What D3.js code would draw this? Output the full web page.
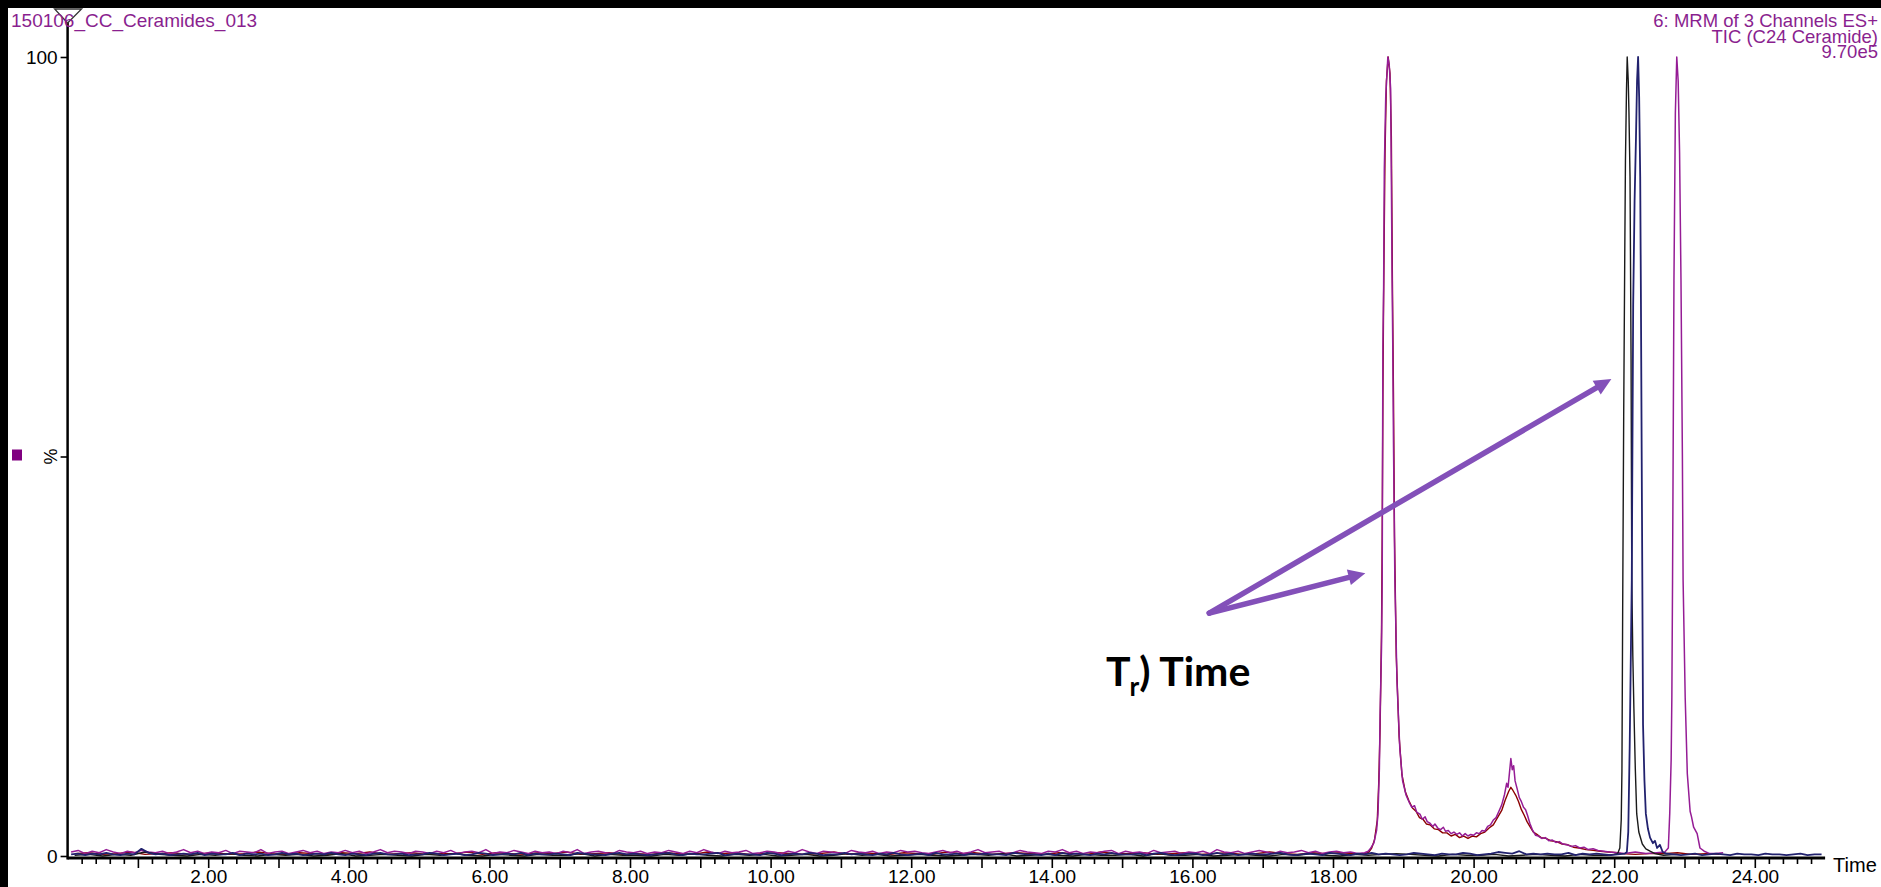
<!DOCTYPE html>
<html>
<head>
<meta charset="utf-8">
<script src="https://d3js.org/d3.v7.min.js"></script>
<style>
  body { margin: 0; background: #fff; }
  svg { display: block; }
</style>
</head>
<body>
<svg id="vis"></svg>
<script>
  // ---- data (retention time in min, intensity in %) ----
  var sampleTitle = "150106_CC_Ceramides_013";
  var infoLines = ["6: MRM of 3 Channels ES+", "TIC (C24 Ceramide)", "9.70e5"];
  var xLabelTicks = [2, 4, 6, 8, 10, 12, 14, 16, 18, 20, 22, 24];
  var yLabelTicks = [0, 100];

  // baseline noise, one value per scan step
  var purpleBase = [
    0.5,0.7,0.3,0.6,0.4,0.8,0.5,0.3,0.6,0.4, 0.7,0.5,0.4,0.6,0.3,0.5,0.8,0.4,0.6,0.3,
    0.5,0.4,0.7,0.3,0.6,0.5,0.4,0.8,0.3,0.5, 0.6,0.3,0.5,0.7,0.4,0.6,0.3,0.5,0.4,0.7,
    0.4,0.6,0.3,0.5,0.8,0.4,0.6,0.5,0.3,0.6, 0.5,0.3,0.6,0.4,0.7,0.3,0.5,0.6,0.4,0.8,
    0.3,0.5,0.4,0.7,0.5,0.3,0.6,0.4,0.5,0.3, 0.6,0.4,0.8,0.3,0.5,0.6,0.4,0.3,0.7,0.5,
    0.4,0.6,0.3,0.5,0.4,0.7,0.5,0.3,0.6,0.4, 0.8,0.5,0.3,0.6,0.4,0.5,0.7,0.3,0.4,0.6,
    0.5,0.3,0.6,0.4,0.8,0.5,0.3,0.6,0.5,0.4, 0.3,0.7,0.5,0.4,0.6,0.3,0.5,0.4,0.7,0.5,
    0.6,0.4,0.3,0.5,0.7,0.4,0.6,0.3,0.5,0.8, 0.4,0.5,0.6,0.3,0.4,0.7,0.5,0.4,0.3,0.6,
    0.5,0.8,0.4,0.6,0.3,0.5,0.4,0.6,0.7,0.3, 0.6,0.4,0.5,0.3,0.7,0.4,0.5,0.6,0.3,0.5,
    0.4,0.6,0.3,0.8,0.5,0.4,0.6,0.3,0.5,0.7, 0.5,0.3,0.6,0.4,0.5,0.7,0.4,0.6,0.3,0.5,
    0.6,0.4,0.5,0.3,0.6,0.4,0.7,0.5,0.4,0.6, 0.4,0.5,0.3,0.6,0.4,0.5,0.3,0.4,0.6,0.5,
    0.3,0.5,0.4,0.6,0.3,0.4,0.5,0.3,0.6,0.4, 0.5,0.3,0.4,0.5,0.3,0.6,0.4,0.3,0.5,0.4,
    0.3,0.4,0.5,0.3,0.4,0.3,0.5,0.4,0.3,0.4, 0.3,0.4,0.3,0.5,0.3,0.4,0.4,0.3,0.5,0.3,
    0.3,0.4,0.3,0.4,0.3,0.3,0.4,0.3,0.4,0.3
  ];
  var navyBase = [
    0.2,0.3,0.1,0.3,0.2,0.4,0.2,0.1,0.3,0.2, 0.9,0.4,0.2,0.3,0.1,0.2,0.3,0.2,0.4,0.1,
    0.3,0.2,0.2,0.4,0.1,0.3,0.2,0.3,0.1,0.2, 0.4,0.2,0.3,0.1,0.2,0.3,0.2,0.4,0.2,0.1,
    0.3,0.2,0.1,0.3,0.4,0.2,0.2,0.3,0.1,0.2, 0.2,0.4,0.3,0.1,0.2,0.3,0.1,0.2,0.4,0.3,
    0.1,0.2,0.3,0.2,0.4,0.1,0.3,0.2,0.2,0.3, 0.2,0.1,0.4,0.3,0.2,0.2,0.1,0.3,0.4,0.2,
    0.3,0.2,0.1,0.2,0.3,0.4,0.2,0.1,0.3,0.2, 0.2,0.3,0.4,0.1,0.2,0.3,0.2,0.2,0.1,0.4,
    0.3,0.1,0.2,0.3,0.2,0.4,0.3,0.1,0.2,0.2, 0.4,0.2,0.3,0.2,0.1,0.3,0.2,0.4,0.2,0.1,
    0.2,0.3,0.1,0.4,0.2,0.2,0.3,0.1,0.3,0.2, 0.3,0.2,0.2,0.1,0.4,0.3,0.2,0.2,0.1,0.3,
    0.1,0.4,0.2,0.3,0.2,0.1,0.3,0.2,0.4,0.2, 0.2,0.2,0.3,0.1,0.3,0.4,0.2,0.1,0.2,0.3,
    0.3,0.1,0.2,0.4,0.2,0.3,0.1,0.2,0.3,0.2, 0.2,0.3,0.4,0.2,0.1,0.2,0.3,0.2,0.1,0.4,
    0.3,0.2,0.1,0.3,0.2,0.4,0.2,0.3,0.2,0.1, 0.2,0.4,0.3,0.2,0.1,0.3,0.2,0.2,0.4,0.3,
    0.1,0.2,0.3,0.5,0.4,0.3,0.6,0.2,0.3,0.2, 0.3,0.2,0.2,0.4,0.1,0.3,0.2,0.3,0.2,0.1,
    0.2,0.3,0.3,0.2,0.4,0.3,0.2,0.3,0.2,0.1, 0.2,0.3,0.1,0.2,0.3,0.2,0.1,0.3,0.2,0.2,
    0.1,0.3,0.2,0.2,0.1,0.2,0.3,0.1,0.2,0.2
  ];
  var blackBase = [
    0.1,0.2,0.0,0.2,0.1,0.5,0.2,0.1,0.0,0.2, 0.1,0.3,0.1,0.0,0.2,0.1,0.2,0.0,0.1,0.3,
    0.0,0.1,0.2,0.1,0.0,0.2,0.1,0.3,0.1,0.0, 0.2,0.1,0.0,0.2,0.1,0.1,0.3,0.0,0.2,0.1,
    0.1,0.0,0.2,0.1,0.3,0.1,0.0,0.2,0.1,0.2, 0.0,0.1,0.2,0.0,0.1,0.3,0.1,0.2,0.0,0.1,
    0.2,0.1,0.0,0.1,0.2,0.1,0.3,0.0,0.1,0.2, 0.1,0.0,0.2,0.1,0.1,0.2,0.0,0.3,0.1,0.1,
    0.2,0.0,0.1,0.2,0.1,0.0,0.2,0.1,0.3,0.1, 0.0,0.2,0.1,0.2,0.3,0.2,0.1,0.0,0.2,0.1,
    0.1,0.2,0.0,0.1,0.2,0.1,0.0,0.2,0.1,0.1, 0.2,0.0,0.1,0.1,0.2
  ];
  var redBase = [
    0.3,0.4,0.2,0.3,0.5,0.2,0.3,0.4,0.2,0.3, 0.4,0.2,0.3,0.5,0.3,0.2,0.4,0.3,0.2,0.4,
    0.3,0.5,0.2,0.3,0.4,0.2,0.3,0.3,0.5,0.2, 0.4,0.3,0.2,0.4,0.3,0.5,0.2,0.3,0.4,0.2,
    0.3,0.2,0.4,0.3,0.2,0.5,0.3,0.4,0.2,0.3, 0.4,0.3,0.2,0.3,0.5,0.2,0.4,0.3,0.2,0.4,
    0.3,0.2,0.5,0.3,0.4,0.2,0.3,0.4,0.3,0.2, 0.4,0.3,0.2,0.5,0.3,0.3,0.4,0.2,0.3,0.4,
    0.2,0.3,0.4,0.2,0.3,0.5,0.3,0.2,0.4,0.3, 0.4,0.3,0.2,0.3,0.4,0.3,0.2,0.4,0.3,0.2,
    0.3,0.4,0.3,0.2,0.3,0.4,0.3,0.3,0.2,0.4, 0.3,0.2,0.3,0.3,0.4,0.2,0.3,0.2,0.3,0.2,
    0.3,0.2,0.3,0.2,0.2
  ];

  // peak regions [time, %]
  var purplePeak = [
    [18.45,0.4],[18.50,0.6],[18.53,0.9],[18.58,1.6],[18.62,3.2],[18.64,5.3],[18.66,11],[18.67,17.8],
    [18.69,26],[18.70,34.5],[18.705,50],[18.71,64],[18.72,71],[18.73,86],[18.75,95],[18.78,100],
    [18.80,99],[18.82,96],[18.83,85],[18.84,73],[18.85,64],[18.86,52],[18.88,34.5],[18.91,21.9],
    [18.95,13.5],[18.99,9.4],[19.04,7.6],[19.09,6.6],[19.12,6.1],[19.16,6.3],[19.19,5.5],[19.24,5.2],
    [19.27,4.6],[19.31,4.9],[19.34,4.3],[19.38,4.1],[19.42,3.7],[19.45,4.0],[19.49,3.5],[19.53,3.3],
    [19.57,3.6],[19.60,3.1],[19.64,3.2],[19.68,2.8],[19.72,3.0],[19.76,2.7],[19.80,2.9],[19.84,2.5],
    [19.88,2.8],[19.92,2.5],[19.96,2.7],[20.00,2.6],[20.04,2.9],[20.08,2.8],[20.12,3.2],[20.16,3.1],
    [20.20,3.7],[20.24,3.9],[20.28,4.5],[20.32,4.8],[20.36,5.6],[20.40,6.4],[20.44,7.7],[20.47,9.1],
    [20.49,8.6],[20.51,10.4],[20.53,12.2],[20.55,10.8],[20.57,11.3],[20.59,9.4],[20.62,8.4],[20.65,7.3],
    [20.68,6.8],[20.71,6.1],[20.74,5.8],[20.77,5.0],[20.80,4.1],[20.84,3.2],[20.88,2.6],[20.92,2.5],
    [20.97,2.2],[21.02,2.3],[21.07,1.9],[21.12,2.0],[21.17,1.7],[21.22,1.8],[21.27,1.5],[21.33,1.4],
    [21.39,1.2],[21.45,1.3],[21.51,1.0],[21.57,1.1],[21.63,0.8],[21.70,0.9],[21.77,0.7],[21.85,0.6],
    [21.93,0.5],[22.04,0.4],[22.15,0.3],[22.30,0.5],[22.45,0.3],[22.60,0.4],[22.72,0.5],[22.77,1.0],
    [22.79,5.3],[22.81,12],[22.82,19.8],[22.83,34.5],[22.85,72],[22.87,93],[22.89,100],[22.91,97],
    [22.93,88],[22.95,72],[22.97,50],[22.98,34.5],[23.01,19.8],[23.04,10.3],[23.08,5.6],[23.10,4.9],
    [23.13,3.6],[23.18,2.8],[23.22,1.0],[23.28,0.6],[23.36,0.3]
  ];
  var redPeak = [
    [18.45,0.3],[18.51,0.5],[18.55,1.0],[18.59,2.0],[18.63,4.5],[18.65,9],[18.67,16],[18.69,28],
    [18.70,40],[18.71,58],[18.72,70],[18.74,88],[18.76,97],[18.785,100],[18.81,98],[18.83,90],
    [18.845,72],[18.86,58],[18.875,40],[18.90,25],[18.94,15],[18.98,10.2],[19.03,8.0],[19.08,6.9],
    [19.13,6.0],[19.18,5.6],[19.23,4.8],[19.28,4.6],[19.33,4.0],[19.38,3.9],[19.44,3.4],[19.50,3.3],
    [19.56,2.9],[19.62,2.9],[19.68,2.5],[19.74,2.7],[19.80,2.3],[19.86,2.5],[19.92,2.2],[19.98,2.5],
    [20.04,2.4],[20.10,2.8],[20.16,3.0],[20.22,3.5],[20.28,3.9],[20.34,4.8],[20.40,5.7],[20.45,7.0],
    [20.50,8.1],[20.53,8.6],[20.56,8.2],[20.60,7.6],[20.64,6.8],[20.68,5.8],[20.72,5.1],[20.76,4.3],
    [20.80,3.7],[20.85,3.0],[20.90,2.7],[20.96,2.3],[21.03,2.2],[21.10,1.9],[21.18,1.8],[21.26,1.5],
    [21.34,1.4],[21.42,1.1],[21.50,1.0],[21.60,0.8],[21.70,0.7],[21.80,0.6],[21.92,0.5],[22.05,0.4]
  ];
  var blackPeak = [
    [22.00,0.2],[22.05,0.3],[22.08,1.0],[22.10,4.5],[22.11,10.6],[22.12,30],[22.135,55],[22.15,75],
    [22.16,87],[22.175,96],[22.185,100],[22.20,97],[22.21,93],[22.225,85],[22.24,62],[22.25,34.5],
    [22.265,25],[22.28,18.5],[22.30,11],[22.32,5.3],[22.35,3.0],[22.40,1.5],[22.45,0.9],[22.51,0.6],
    [22.58,0.3]
  ];
  var navyPeak = [
    [22.15,0.3],[22.18,0.5],[22.20,3.0],[22.22,13.5],[22.25,34.5],[22.26,52],[22.27,69],[22.29,82],
    [22.31,90],[22.325,97],[22.34,100],[22.355,95],[22.37,85],[22.38,70],[22.39,52],[22.40,34.5],
    [22.41,16.5],[22.43,9.5],[22.45,5.3],[22.48,3.4],[22.51,2.3],[22.55,1.6],[22.58,1.9],[22.61,1.0],
    [22.65,1.4],[22.69,0.5],[22.74,0.3]
  ];

  // annotation: arrow start and two arrow tips [time, %]
  var arrowFrom = [16.24, 30.4];
  var arrowTips = [[18.46, 35.4], [21.96, 59.7]];
  var noteText = ["T", "r", ") Time"];

  // ---- drawing ----
  var W = 1881, H = 887;
  var FONT = "Liberation Sans, Arial, sans-serif";
  var svg = d3.select("#vis").attr("width", W).attr("height", H);

  svg.append("rect").attr("width", W).attr("height", H).attr("fill", "#fff");
  svg.append("rect").attr("width", W).attr("height", 8).attr("fill", "#000");
  svg.append("rect").attr("width", 8).attr("height", H).attr("fill", "#000");

  var x = d3.scaleLinear().domain([0, 25]).range([67.6, 1825.1]);
  var y = d3.scaleLinear().domain([0, 100]).range([856, 57]);
  var axisY = 858;

  function buildSeries(base, t0, dt, peak, end) {
    var first = peak[0][0], last = peak[peak.length - 1][0];
    var pts = base.map(function(v, i) { return [t0 + i * dt, v]; })
      .filter(function(d) { return d[0] <= end && (d[0] < first || d[0] > last); });
    return pts.concat(peak).sort(function(a, b) { return a[0] - b[0]; });
  }

  var series = [
    {color: "#8b0000", width: 1.4, pts: buildSeries(redBase, 0.1, 0.2, redPeak, 23.65)},
    {color: "#951c95", width: 1.5, pts: buildSeries(purpleBase, 0.05, 0.1, purplePeak, 23.65)},
    {color: "#1a1a1a", width: 1.4, pts: buildSeries(blackBase, 0.1, 0.2, blackPeak, 25)},
    {color: "#22226e", width: 1.8, pts: buildSeries(navyBase, 0.05, 0.1, navyPeak, 25)}
  ];

  var line = d3.line()
    .x(function(d) { return x(d[0]); })
    .y(function(d) { return y(d[1]); });

  svg.append("g").selectAll("path")
    .data(series)
    .enter().append("path")
    .attr("d", function(d) { return line(d.pts); })
    .attr("fill", "none")
    .attr("stroke", function(d) { return d.color; })
    .attr("stroke-width", function(d) { return d.width; })
    .attr("stroke-linejoin", "round");

  // x axis: minor ticks every 0.2, major every 1, labels every 2
  var minorTicks = d3.range(1, 125).map(function(i) { return i / 5; }).filter(function(t) { return t % 1 !== 0; });
  var majorTicks = d3.range(1, 25);

  svg.append("g")
    .attr("transform", "translate(0," + axisY + ")")
    .call(d3.axisBottom(x).tickValues(minorTicks).tickSize(6).tickFormat(""))
    .call(function(g) { g.select(".domain").remove(); });

  var xAxis = svg.append("g")
    .attr("transform", "translate(0," + axisY + ")")
    .call(d3.axisBottom(x).tickValues(majorTicks).tickSize(10).tickPadding(2)
      .tickFormat(function(d) { return xLabelTicks.indexOf(d) >= 0 ? d.toFixed(2) : ""; }));
  xAxis.select(".domain").remove();
  svg.selectAll(".tick line").attr("stroke", "#000").attr("stroke-width", 1.6);
  xAxis.selectAll("text")
    .attr("font-family", FONT)
    .attr("font-size", 19)
    .attr("fill", "#000");

  svg.append("line")
    .attr("x1", x(0)).attr("x2", x(25))
    .attr("y1", axisY).attr("y2", axisY)
    .attr("stroke", "#000").attr("stroke-width", 3.2);

  svg.append("text")
    .attr("x", x(25) + 8).attr("y", axisY + 14)
    .attr("font-family", FONT)
    .attr("font-size", 20)
    .text("Time");

  // y axis
  var yAxis = svg.append("g")
    .attr("transform", "translate(" + x(0) + ",0)")
    .call(d3.axisLeft(y).tickValues([0, 50, 100]).tickSize(7).tickPadding(3)
      .tickFormat(function(d) { return yLabelTicks.indexOf(d) >= 0 ? d : ""; }));
  yAxis.select(".domain").remove();
  yAxis.selectAll(".tick line").attr("stroke", "#000").attr("stroke-width", 1.6);
  yAxis.selectAll("text")
    .attr("font-family", FONT)
    .attr("font-size", 19)
    .attr("fill", "#000");

  svg.append("line")
    .attr("x1", x(0)).attr("x2", x(0))
    .attr("y1", 22).attr("y2", axisY + 1.5)
    .attr("stroke", "#000").attr("stroke-width", 2.5);

  svg.append("text")
    .attr("transform", "translate(" + (x(0) - 11) + "," + y(50) + ") rotate(-90)")
    .attr("text-anchor", "middle")
    .attr("font-family", FONT)
    .attr("font-size", 18)
    .text("%");

  svg.append("rect")
    .attr("x", 12).attr("y", y(50) - 7).attr("width", 10).attr("height", 11)
    .attr("fill", "#800080");

  // marker triangle at top of y axis
  svg.append("path")
    .attr("d", "M" + (x(0) - 13) + ",9 L" + (x(0) + 14) + ",9 L" + x(0) + ",23 Z")
    .attr("fill", "none").attr("stroke", "#333").attr("stroke-width", 1.3);

  // header texts
  svg.append("text")
    .attr("x", 11).attr("y", 27)
    .attr("font-family", FONT)
    .attr("font-size", 19)
    .attr("fill", "#8a1f8f")
    .text(sampleTitle);

  svg.append("g").selectAll("text")
    .data(infoLines)
    .enter().append("text")
    .attr("x", 1878)
    .attr("y", function(d, i) { return 27 + i * 15.6; })
    .attr("text-anchor", "end")
    .attr("font-family", FONT)
    .attr("font-size", 18.5)
    .attr("fill", "#8a1f8f")
    .text(function(d) { return d; });

  // arrows
  var arrowColor = "#8350b9";
  var ax0 = x(arrowFrom[0]), ay0 = y(arrowFrom[1]);
  arrowTips.forEach(function(tip) {
    var tx = x(tip[0]), ty = y(tip[1]);
    var dx = tx - ax0, dy = ty - ay0, len = Math.sqrt(dx * dx + dy * dy);
    var ux = dx / len, uy = dy / len, head = 17, half = 8;
    var bx = tx - ux * head, by = ty - uy * head;
    svg.append("line")
      .attr("x1", ax0).attr("y1", ay0)
      .attr("x2", bx + ux * 2).attr("y2", by + uy * 2)
      .attr("stroke", arrowColor).attr("stroke-width", 5.5)
      .attr("stroke-linecap", "round");
    svg.append("path")
      .attr("d", "M" + tx + "," + ty +
        " L" + (bx - uy * half) + "," + (by + ux * half) +
        " L" + (bx + uy * half) + "," + (by - ux * half) + " Z")
      .attr("fill", arrowColor);
  });

  var note = svg.append("text")
    .attr("x", 1106).attr("y", 686)
    .attr("font-family", "Lato, 'Open Sans', sans-serif")
    .attr("font-weight", "bold")
    .attr("font-size", 41)
    .attr("fill", "#000");
  note.append("tspan").text(noteText[0]);
  note.append("tspan").attr("font-size", 26).attr("dy", 10).attr("dx", -1).text(noteText[1]);
  note.append("tspan").attr("dy", -10).text(noteText[2]);
</script>
</body>
</html>
